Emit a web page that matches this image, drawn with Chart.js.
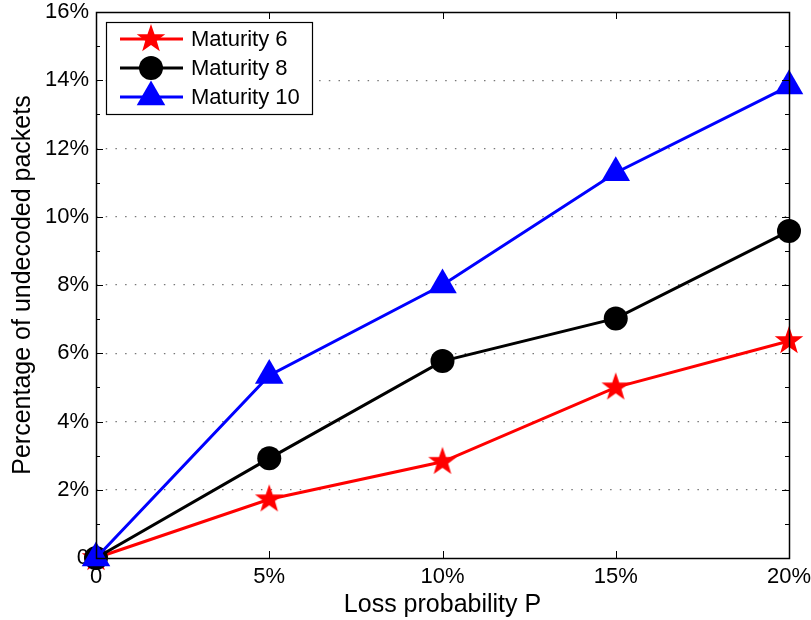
<!DOCTYPE html>
<html>
<head>
<meta charset="utf-8">
<script src="https://cdn.jsdelivr.net/npm/chart.js@4.4.0/dist/chart.umd.min.js"></script>
<style>
  html, body { margin: 0; padding: 0; background: #fff; }
  canvas { display: block; }
</style>
</head>
<body>
<canvas id="lossChart" width="811" height="620"></canvas>
<script>
// Data (loss probability in %, undecoded packets in %)
const lossProb = [0, 5, 10, 15, 20];
const maturity6 = [0, 1.72, 2.82, 5.0, 6.36];
const maturity8 = [0, 2.92, 5.77, 7.02, 9.58];
const maturity10 = [0, 5.35, 8.0, 11.29, 13.83];
const seriesLabels = ['Maturity 6', 'Maturity 8', 'Maturity 10'];
const xTicks = [0, 5, 10, 15, 20];
const yTicks = [0, 2, 4, 6, 8, 10, 12, 14, 16];

const FONT = "'Liberation Sans', Arial, Helvetica, sans-serif";

// Filled five-point star, like the MATLAB pentagram marker
function makeStar(color, outer) {
    const size = Math.ceil(outer * 2 + 2);
    const c = document.createElement('canvas');
    c.width = size;
    c.height = size;
    const g = c.getContext('2d');
    const cx = size / 2, cy = size / 2;
    const inner = outer * 0.4;
    g.beginPath();
    for (let i = 0; i < 10; i++) {
        const r = i % 2 === 0 ? outer : inner;
        const a = -Math.PI / 2 + i * Math.PI / 5;
        const px = cx + r * Math.cos(a);
        const py = cy + r * Math.sin(a);
        if (i === 0) g.moveTo(px, py); else g.lineTo(px, py);
    }
    g.closePath();
    g.fillStyle = color;
    g.fill();
    return c;
}
const starImg = makeStar('#ff0000', 15);

const series = [
    { label: seriesLabels[0], data: maturity6, color: '#ff0000', style: starImg, radius: 15, order: 3 },
    { label: seriesLabels[1], data: maturity8, color: '#000000', style: 'circle', radius: 12, order: 2 },
    { label: seriesLabels[2], data: maturity10, color: '#0000ff', style: 'triangle', radius: 16.5, order: 1 }
];

const datasets = series.map(s => ({
    label: s.label,
    data: lossProb.map((x, i) => ({ x: x, y: s.data[i] })),
    borderColor: s.color,
    backgroundColor: s.color,
    borderWidth: 3,
    pointStyle: s.style,
    pointRadius: s.radius,
    pointBorderWidth: 0,
    pointBackgroundColor: s.color,
    pointBorderColor: s.color,
    order: s.order,
    clip: false,
    tension: 0
}));

// Box around the plot, inward ticks (MATLAB style) and the in-plot legend
const matlabAxes = {
    id: 'matlabAxes',
    afterDatasetsDraw(chart) {
        const ctx = chart.ctx;
        const a = chart.chartArea;
        const xs = chart.scales.x, ys = chart.scales.y;
        ctx.save();
        ctx.strokeStyle = '#000';
        ctx.lineWidth = 1;

        // ticks
        ctx.beginPath();
        xTicks.forEach(v => {
            const px = Math.round(xs.getPixelForValue(v)) + 0.5;
            ctx.moveTo(px, a.bottom); ctx.lineTo(px, a.bottom - 7);
            ctx.moveTo(px, a.top); ctx.lineTo(px, a.top + 7);
        });
        for (let v = 0; v <= 16; v++) {
            const py = Math.round(ys.getPixelForValue(v)) + 0.5;
            const len = v % 2 === 0 ? 7 : 4;
            ctx.moveTo(a.left, py); ctx.lineTo(a.left + len, py);
            ctx.moveTo(a.right, py); ctx.lineTo(a.right - len, py);
        }
        ctx.stroke();

        // box
        ctx.lineWidth = 1.5;
        ctx.strokeRect(Math.round(a.left) + 0.5, Math.round(a.top) + 0.5,
            Math.round(a.right - a.left), Math.round(a.bottom - a.top));

        // legend
        const lx = 106, ly = 22, lw = 206, lh = 92;
        ctx.fillStyle = '#fff';
        ctx.fillRect(lx, ly, lw, lh);
        ctx.lineWidth = 1.2;
        ctx.strokeRect(lx + 0.5, ly + 0.5, lw, lh);
        const rows = [39, 68, 97];
        series.forEach((s, i) => {
            const y = rows[i];
            ctx.strokeStyle = s.color;
            ctx.lineWidth = 3;
            ctx.beginPath();
            ctx.moveTo(120, y); ctx.lineTo(183, y);
            ctx.stroke();
            ctx.fillStyle = s.color;
            if (s.style === 'circle') {
                ctx.beginPath(); ctx.arc(151, y, s.radius, 0, Math.PI * 2); ctx.fill();
            } else if (s.style === 'triangle') {
                const r = s.radius;
                ctx.beginPath();
                ctx.moveTo(151, y - r);
                ctx.lineTo(151 + r * Math.sin(2 * Math.PI / 3), y - r * Math.cos(2 * Math.PI / 3));
                ctx.lineTo(151 + r * Math.sin(4 * Math.PI / 3), y - r * Math.cos(4 * Math.PI / 3));
                ctx.closePath(); ctx.fill();
            } else {
                ctx.drawImage(s.style, 151 - s.style.width / 2, y - s.style.height / 2);
            }
            ctx.fillStyle = '#000';
            ctx.font = '22px ' + FONT;
            ctx.textBaseline = 'middle';
            ctx.textAlign = 'left';
            ctx.fillText(s.label, 191, y + 1);
        });
        ctx.restore();
    }
};

const pct = v => (v === 0 ? '0' : v + '%');

new Chart(document.getElementById('lossChart').getContext('2d'), {
    type: 'line',
    data: { datasets: datasets },
    options: {
        responsive: false,
        animation: false,
        devicePixelRatio: 1,
        layout: { autoPadding: false, padding: { top: 12, right: 22, left: 0, bottom: 0 } },
        plugins: {
            legend: { display: false },
            tooltip: { enabled: false }
        },
        scales: {
            x: {
                type: 'linear',
                min: 0,
                max: 20,
                afterBuildTicks: axis => { axis.ticks = xTicks.map(v => ({ value: v })); },
                afterFit: axis => {
                    axis.height = 62;
                    axis.paddingLeft = 0;
                    axis.paddingRight = 0;
                },
                ticks: {
                    callback: pct,
                    color: '#000',
                    padding: 6,
                    maxRotation: 0,
                    font: { family: FONT, size: 22 }
                },
                grid: { display: false, drawTicks: false },
                border: { display: false },
                title: {
                    display: true,
                    text: 'Loss probability P',
                    color: '#000',
                    padding: { top: 0, bottom: 0 },
                    font: { family: FONT, size: 25 }
                }
            },
            y: {
                type: 'linear',
                min: 0,
                max: 16,
                afterBuildTicks: axis => { axis.ticks = yTicks.map(v => ({ value: v })); },
                afterFit: axis => {
                    axis.width = 96;
                    axis.paddingTop = 0;
                    axis.paddingBottom = 0;
                },
                ticks: {
                    callback: pct,
                    color: '#000',
                    padding: 7,
                    font: { family: FONT, size: 22 }
                },
                grid: {
                    drawTicks: false,
                    lineWidth: 1.2,
                    color: ctx => (ctx.tick && (ctx.tick.value === 0 || ctx.tick.value === 16)) ? 'rgba(0,0,0,0)' : '#777',
                    borderDash: [1.5, 8.2]
                },
                border: { display: false, dash: [1.5, 8.2] },
                title: {
                    display: true,
                    text: 'Percentage of undecoded packets',
                    color: '#000',
                    padding: { top: 8, bottom: 0 },
                    font: { family: FONT, size: 25 }
                }
            }
        }
    },
    plugins: [matlabAxes]
});
</script>
</body>
</html>
